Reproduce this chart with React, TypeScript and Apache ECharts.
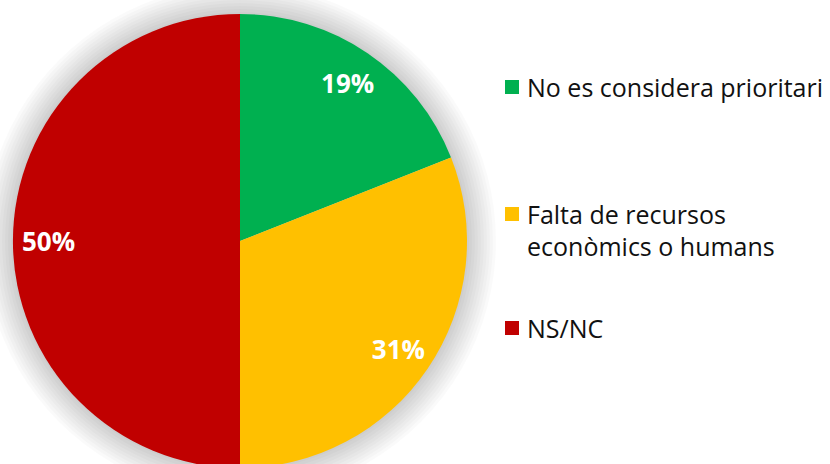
import React, { useEffect, useRef } from "react";
import * as echarts from "echarts";

const categories = ["No es considera prioritari", "Falta de recursos\neconòmics o humans", "NS/NC"];
const values = [19, 31, 50];
const colors = ["#00B050", "#FFC000", "#C00000"];

const FONT = '"Open Sans", "Noto Sans", sans-serif';

export default function App() {
  const ref = useRef<HTMLDivElement>(null);
  useEffect(() => {
    const chart = echarts.init(ref.current!, null, { renderer: "svg" });
    const data = categories.map((name, i) => ({ name, value: values[i], itemStyle: { color: colors[i] } }));
    const legendBase = {
      orient: "vertical" as const,
      left: 505,
      padding: 0,
      icon: "rect",
      itemWidth: 14,
      itemHeight: 14,
      selectedMode: false,
      textStyle: { fontFamily: FONT, fontSize: 25, color: "#111", lineHeight: 32, padding: [0, 0, 0, 3] },
    };
    const shadowRings = [256, 253, 250, 247, 244, 241, 238, 235, 232, 229];
    chart.setOption({
      animation: false,
      legend: [
        { ...legendBase, top: 71, data: [categories[0]] },
        {
          ...legendBase,
          top: 166,
          data: [categories[1]],
          formatter: (n: string) => " \n" + n,
        },
        { ...legendBase, top: 312, data: [categories[2]] },
      ],
      series: [
        ...shadowRings.map((r, k) => ({
          type: "pie",
          center: [240, 241],
          radius: r,
          silent: true,
          label: { show: false },
          labelLine: { show: false },
          itemStyle: { color: "rgba(0,0,0,0.018)", borderWidth: 0 },
          data: [{ value: 1, name: "shadow" + k }],
          z: 1,
        })),
        {
          type: "pie",
          center: [240, 241],
          radius: 227,
          startAngle: 90,
          clockwise: true,
          label: { show: false },
          labelLine: { show: false },
          itemStyle: { borderWidth: 0 },
          emphasis: { disabled: true },
          data,
          z: 2,
        },
        {
          type: "pie",
          center: [240, 241],
          radius: [150, 227],
          startAngle: 90,
          silent: true,
          itemStyle: { color: "transparent", borderWidth: 0 },
          label: {
            show: true,
            position: "inside",
            formatter: "{c}%",
            color: "#fff",
            fontFamily: FONT,
            fontWeight: "bold",
            fontSize: 26,
          },
          labelLine: { show: false },
          data: categories.map((name, i) => ({ name: "l" + i, value: values[i] })),
          z: 3,
        },
      ],
    });
    return () => chart.dispose();
  }, []);
  return <div ref={ref} style={{ width: 830, height: 464, position: "absolute", left: 0, top: 0 }} />;
}
